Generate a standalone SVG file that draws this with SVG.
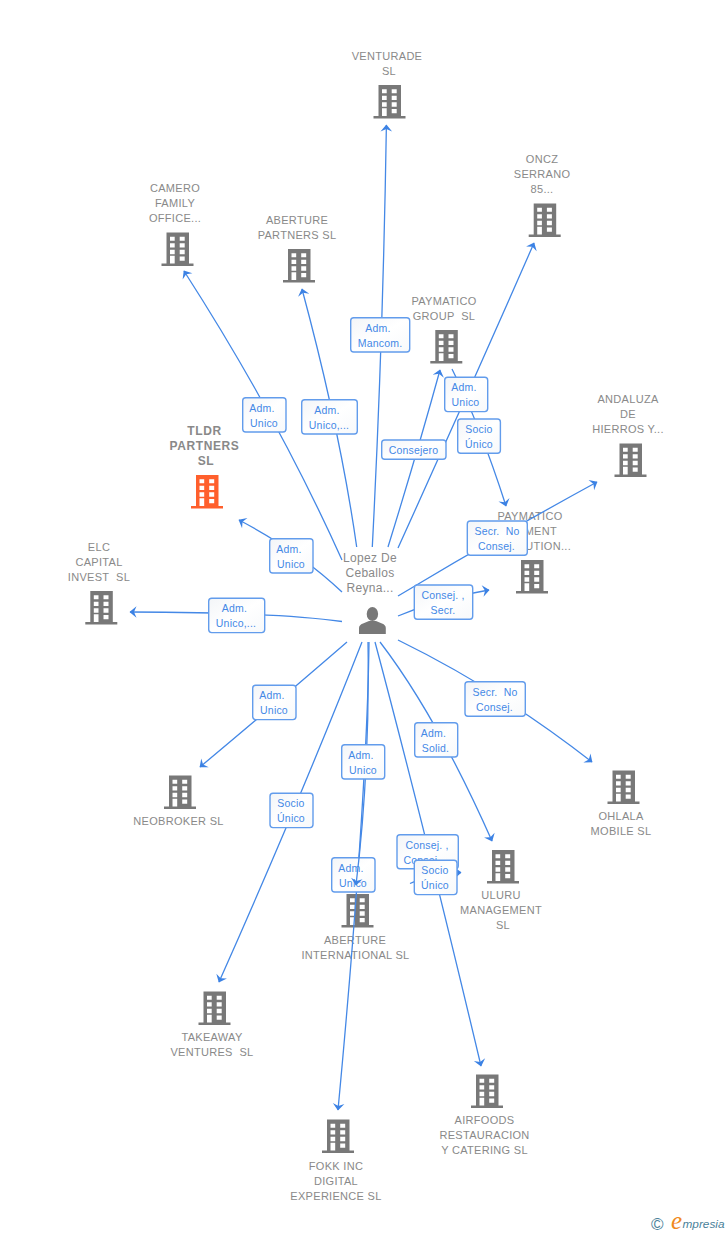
<svg xmlns="http://www.w3.org/2000/svg" width="728" height="1235" viewBox="0 0 728 1235">
<style>
text{font-family:"Liberation Sans",Arial,sans-serif}
.n{font-size:11px;fill:#898989;text-anchor:middle;letter-spacing:.3px}
.nb{font-size:12px;font-weight:bold;fill:#898989;text-anchor:middle;letter-spacing:.6px}
.end{text-anchor:end}
.p{font-size:12px;fill:#898989;text-anchor:middle;letter-spacing:.3px}
.e{fill:none;stroke:#4488e6;stroke-width:1.3;marker-end:url(#arr)}
.b{fill:url(#bg);stroke:#629cec;stroke-width:1.4}
.l{font-size:10.5px;fill:#4488e6;text-anchor:middle;letter-spacing:.2px}
.g{fill:#787878}
.o{fill:#ff5f2c}
</style>
<defs>
<linearGradient id="bg" x1="0" y1="0" x2="1" y2="1"><stop offset="0" stop-color="#f3f5f8"/><stop offset=".5" stop-color="#ffffff"/><stop offset="1" stop-color="#f7f9fb"/></linearGradient>
<marker id="arr" markerUnits="userSpaceOnUse" markerWidth="12" markerHeight="14" viewBox="-8 -7 9 14" refX="0" refY="0" orient="auto"><path d="M0.5 0L-6.5 -5.8L-4 0L-6.5 5.8Z" fill="#3c82e4"/></marker>
<path id="bld" fill-rule="evenodd" d="M-11 0H11.5V31H16V33.5H-16V31H-11ZM-7.5 4.3V8.3H-2.8V4.3ZM2.2 4.3V8.3H7.2V4.3ZM-7.5 10.7V15H-2.8V10.7ZM2.2 10.7V15H7.2V10.7ZM-7.5 17.3V21.7H-2.8V17.3ZM2.2 17.3V21.7H7.2V17.3ZM-7.5 23.3V31H-2.8V23.3ZM2.2 24V28.3H7.2V24Z"/>
</defs>
<g id="nodes">
<g id="venturade"><use href="#bld" x="389.5" y="85" class="g"/><text class="n" x="387" y="60">VENTURADE</text><text class="n" x="389" y="75">SL</text></g>
<g id="oncz"><use href="#bld" x="544.7" y="203.5" class="g"/><text class="n" x="542" y="163">ONCZ</text><text class="n" x="542" y="178">SERRANO</text><text class="n" x="542" y="193">85...</text></g>
<g id="camero"><use href="#bld" x="177.5" y="232.5" class="g"/><text class="n" x="175" y="192">CAMERO</text><text class="n" x="175" y="207">FAMILY</text><text class="n" x="175" y="222">OFFICE...</text></g>
<g id="aberture-partners"><use href="#bld" x="299" y="249" class="g"/><text class="n" x="297" y="224">ABERTURE</text><text class="n" x="297" y="239">PARTNERS SL</text></g>
<g id="paymatico-group"><use href="#bld" x="446.3" y="330" class="g"/><text class="n" x="444" y="305">PAYMATICO</text><text class="n" x="444" y="320">GROUP&#160; SL</text></g>
<g id="andaluza"><use href="#bld" x="630.5" y="443.5" class="g"/><text class="n" x="628" y="403">ANDALUZA</text><text class="n" x="628" y="418">DE</text><text class="n" x="628" y="433">HIERROS Y...</text></g>
<g id="tldr"><use href="#bld" x="207" y="475" class="o"/><text class="nb" x="204.5" y="435">TLDR</text><text class="nb" x="204.5" y="450">PARTNERS</text><text class="nb" x="206" y="465">SL</text></g>
<g id="paymatico-mgmt"><use href="#bld" x="532" y="560" class="g"/><text class="n" x="530" y="520">PAYMATICO</text><text class="n end" x="557" y="535">MENT</text><text class="n end" x="571" y="550">UTION...</text></g>
<g id="elc"><use href="#bld" x="101.3" y="591" class="g"/><text class="n" x="99" y="551">ELC</text><text class="n" x="99" y="566">CAPITAL</text><text class="n" x="99" y="581">INVEST&#160; SL</text></g>
<g id="neobroker"><use href="#bld" x="180" y="775.5" class="g"/><text class="n" x="178.5" y="825">NEOBROKER SL</text></g>
<g id="ohlala"><use href="#bld" x="623.5" y="770.5" class="g"/><text class="n" x="621" y="820">OHLALA</text><text class="n" x="621" y="835">MOBILE SL</text></g>
<g id="uluru"><use href="#bld" x="503" y="850" class="g"/><text class="n" x="501" y="899">ULURU</text><text class="n" x="501" y="914">MANAGEMENT</text><text class="n" x="503" y="929">SL</text></g>
<g id="aberture-intl"><use href="#bld" x="357.5" y="894" class="g"/><text class="n" x="355" y="944">ABERTURE</text><text class="n" x="355.5" y="959">INTERNATIONAL SL</text></g>
<g id="takeaway"><use href="#bld" x="214.5" y="991.5" class="g"/><text class="n" x="212" y="1041">TAKEAWAY</text><text class="n" x="212" y="1056">VENTURES&#160; SL</text></g>
<g id="airfoods"><use href="#bld" x="487" y="1074.5" class="g"/><text class="n" x="484.5" y="1124">AIRFOODS</text><text class="n" x="484.5" y="1139">RESTAURACION</text><text class="n" x="484.5" y="1154">Y CATERING SL</text></g>
<g id="fokk"><use href="#bld" x="338" y="1119.5" class="g"/><text class="n" x="336" y="1170">FOKK INC</text><text class="n" x="336" y="1185">DIGITAL</text><text class="n" x="336" y="1200">EXPERIENCE SL</text></g>
<g id="person"><ellipse cx="372.4" cy="614" rx="5.7" ry="7" class="g"/><path class="g" d="M359 634V628Q359 625 363 623.5L369 621H376L382 623.5Q385.8 625 385.8 628V634Z"/><text class="p" x="370" y="562">Lopez De</text><text class="p" x="370" y="577">Ceballos</text><text class="p" x="370" y="592">Reyna...</text></g>
</g>
<g id="connectors">
<path class="e" d="M372.3 547Q383 340 386.4 125"/>
<path class="e" d="M398 548Q466 398 534 243"/>
<path class="e" d="M342 560Q277 415.5 184 271"/>
<path class="e" d="M356.7 547Q340 430 302 289"/>
<path class="e" d="M388 547Q418 450 440 370"/>
<path class="e" d="M452 369Q480 425 506 506"/>
<path class="e" d="M398 596Q500 535 597 482"/>
<path class="e" d="M398 616Q440 598 489 590"/>
<path class="e" d="M342 592Q300 552 239 520"/>
<path class="e" d="M342 621.5Q270 612 130 612"/>
<path class="e" d="M347 642Q280 700 200 767"/>
<path class="e" d="M362 642Q300 800 219 982"/>
<path class="e" d="M380 642Q436 715 492 841"/>
<path class="e" d="M398 640Q500 690 592 762"/>

<g id="lb-mancom"><rect class="b" x="350.7" y="317.7" width="59" height="34.3" rx="3"/><text class="l" x="378" y="331.5">Adm.</text><text class="l" x="380" y="346.5">Mancom.</text></g>
<g id="lb-oncz"><rect class="b" x="444.7" y="377.3" width="43" height="34.3" rx="3"/><text class="l" x="464" y="391">Adm.</text><text class="l" x="465.5" y="406">Unico</text></g>
<g id="lb-paymgmt"><rect class="b" x="457.7" y="419" width="42.7" height="34.3" rx="3"/><text class="l" x="479" y="432.5">Socio</text><text class="l" x="479" y="447.5">Único</text></g>
<g id="lb-consejero"><rect class="b" x="381.7" y="440" width="64.3" height="19.3" rx="3"/><text class="l" x="413.5" y="453.5">Consejero</text></g>
<g id="lb-andaluza"><rect class="b" x="467.3" y="521" width="60" height="34.3" rx="3"/><text class="l" x="497" y="534.5">Secr.&#160; No</text><text class="l" x="496.5" y="549.5">Consej.</text></g>
<g id="lb-secr"><rect class="b" x="414.3" y="585" width="58.4" height="34.3" rx="3"/><text class="l" x="443" y="598.5">Consej. ,</text><text class="l" x="443" y="613.5">Secr.</text></g>
<g id="lb-tldr"><rect class="b" x="269.7" y="538.7" width="43.3" height="34.3" rx="3"/><text class="l" x="289" y="552.5">Adm.</text><text class="l" x="291" y="567.5">Unico</text></g>
<g id="lb-elc"><rect class="b" x="208.7" y="598.3" width="56" height="34.3" rx="3"/><text class="l" x="234.5" y="612">Adm.</text><text class="l" x="236" y="627">Unico,...</text></g>
<g id="lb-camero"><rect class="b" x="242.7" y="397.7" width="43.3" height="34.3" rx="3"/><text class="l" x="262" y="411.5">Adm.</text><text class="l" x="264" y="426.5">Unico</text></g>
<g id="lb-abpartners"><rect class="b" x="301.7" y="399.7" width="55.6" height="34.3" rx="3"/><text class="l" x="327" y="413.5">Adm.</text><text class="l" x="329" y="428.5">Unico,...</text></g>
<g id="lb-neobroker"><rect class="b" x="252.7" y="685.3" width="43.3" height="34.3" rx="3"/><text class="l" x="272" y="699">Adm.</text><text class="l" x="274" y="714">Unico</text></g>
<g id="lb-takeaway"><rect class="b" x="270" y="793.3" width="43" height="34.3" rx="3"/><text class="l" x="291" y="807">Socio</text><text class="l" x="291" y="822">Único</text></g>
<g id="lb-solid"><rect class="b" x="414.7" y="722.7" width="43" height="34.3" rx="3"/><text class="l" x="433.5" y="736.5">Adm.</text><text class="l" x="435.5" y="751.5">Solid.</text></g>
<g id="lb-ohlala"><rect class="b" x="465" y="681.7" width="60.3" height="34.5" rx="3"/><text class="l" x="495" y="695.5">Secr.&#160; No</text><text class="l" x="494.5" y="710.5">Consej.</text></g>

<path class="e" d="M369 642Q367 800 338 1110"/>
<g id="lb-fokk"><rect class="b" x="331.7" y="857.7" width="43.3" height="34.3" rx="3"/><text class="l" x="351" y="871.5">Adm.</text><text class="l" x="353" y="886.5">Unico</text></g>
<path class="e" d="M368 642Q370 770 356 885"/>
<g id="lb-abintl"><rect class="b" x="341.7" y="744.7" width="43" height="34.3" rx="3"/><text class="l" x="361" y="758.5">Adm.</text><text class="l" x="363" y="773.5">Unico</text></g>
<path class="e" d="M375 642Q425 830 481 1066"/>
<g id="lb-airfoods"><rect class="b" x="397" y="834.7" width="61.3" height="34" rx="3"/><text class="l" x="427" y="848.5">Consej. ,</text><text class="l" x="425" y="863.5">Consej...</text></g>
<path class="e" d="M410 883.5Q430 874 461 872.5"/>
<g id="lb-uluru"><rect class="b" x="414.3" y="860.3" width="42.7" height="34.3" rx="3"/><text class="l" x="435" y="873.5">Socio</text><text class="l" x="435" y="888.5">Único</text></g>
</g>
<g id="logo"><text x="657.3" y="1229.5" font-size="17" fill="#4a7f9a" text-anchor="middle">©</text><text x="671" y="1229" font-size="25" fill="#f08a1d" font-style="italic" style="font-family:'Liberation Serif',serif">e</text><text x="682.5" y="1228" font-size="11.8" fill="#4a7f9a" font-style="italic">mpresia</text></g>
</svg>
